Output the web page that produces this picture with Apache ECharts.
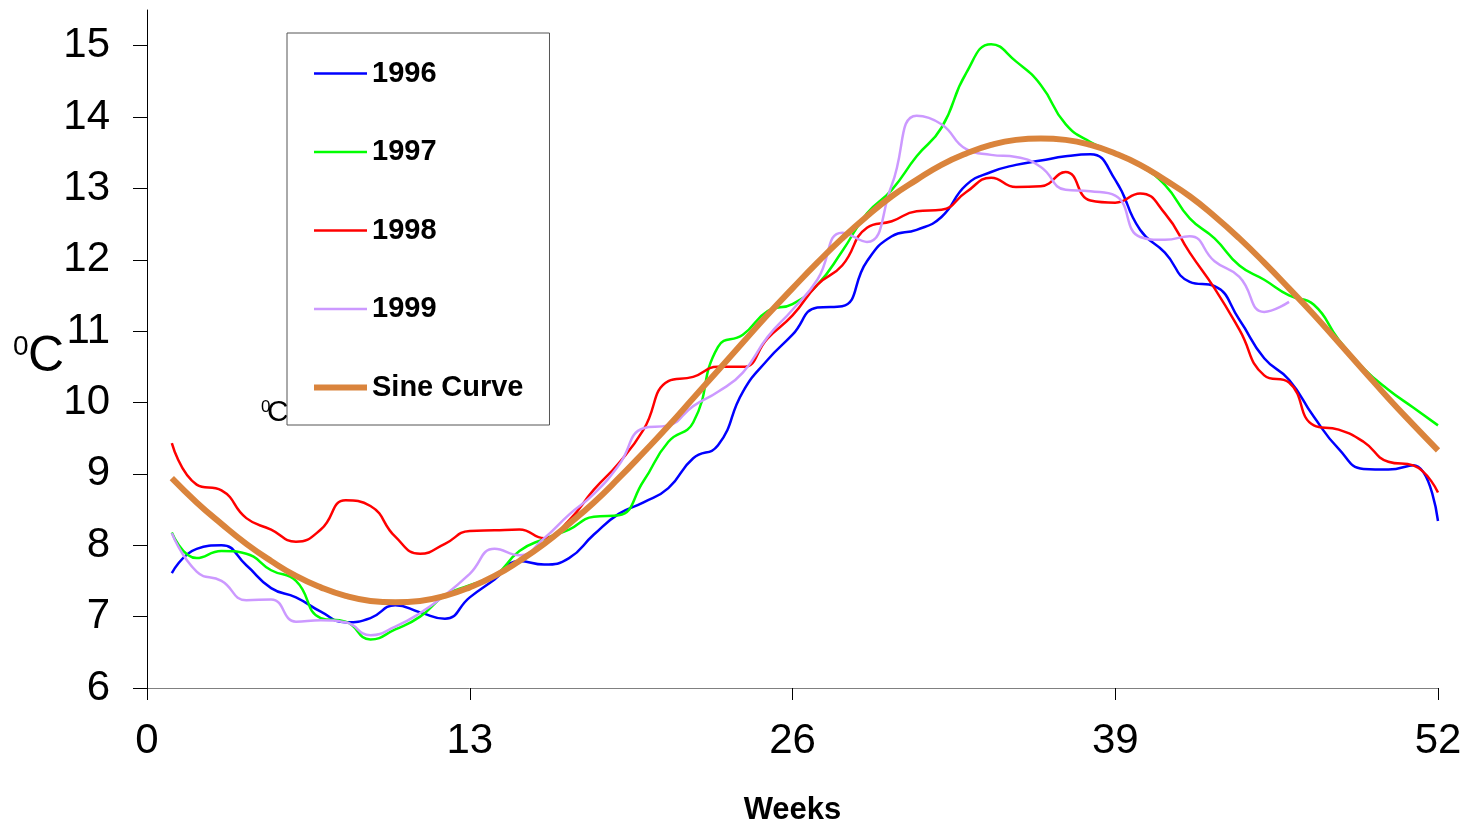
<!DOCTYPE html>
<html>
<head>
<meta charset="utf-8">
<style>
  html, body { margin: 0; padding: 0; background: #fff; }
  #main { width: 1469px; height: 824px; }
</style>
<script src="https://cdn.jsdelivr.net/npm/echarts@6/dist/echarts.min.js"></script>
</head>
<body>
<div id="main"></div>
<script>
// 坐标轴刻度
var xTicks = [0, 13, 26, 39, 52];
var yTicks = [6, 7, 8, 9, 10, 11, 12, 13, 14, 15];

// 各年每周水温 (第1周起)
var t1996 = [7.61, 7.95, 8.00, 7.72, 7.40, 7.27, 7.07, 6.92, 6.98, 7.16,
    7.06, 6.97, 7.27, 7.52, 7.78, 7.73, 7.82, 8.15, 8.44, 8.60,
    8.80, 9.22, 9.40, 10.15, 10.60, 10.95, 11.33, 11.35, 11.98, 12.33,
    12.42, 12.60, 13.05, 13.23, 13.33, 13.39, 13.45, 13.48, 13.12, 12.42,
    12.10, 11.69, 11.63, 11.16, 10.62, 10.32, 9.80, 9.35, 9.07, 9.06,
    9.12, 8.34];
var t1997 = [8.18, 7.82, 7.92, 7.88, 7.65, 7.50, 6.98, 6.93, 6.68, 6.82,
    7.00, 7.30, 7.44, 7.57, 7.92, 8.09, 8.22, 8.40, 8.42, 8.90,
    9.45, 9.72, 10.78, 10.95, 11.28, 11.38, 11.65, 12.12, 12.65, 12.98,
    13.45, 13.85, 14.62, 15.02, 14.78, 14.45, 13.90, 13.65, 13.50, 13.32,
    13.05, 12.58, 12.30, 11.92, 11.72, 11.50, 11.37, 10.88, 10.48, 10.18,
    9.93, 9.68];
var t1998 = [9.43, 8.85, 8.77, 8.38, 8.22, 8.05, 8.22, 8.63, 8.55, 8.12,
    7.88, 8.02, 8.20, 8.21, 8.22, 8.10, 8.35, 8.78, 9.15, 9.62,
    10.30, 10.36, 10.50, 10.50, 10.90, 11.22, 11.65, 11.92, 12.45, 12.54,
    12.68, 12.70, 12.95, 13.15, 13.02, 13.03, 13.23, 12.83, 12.80, 12.93,
    12.65, 12.10, 11.60, 11.02, 10.38, 10.28, 9.68, 9.62, 9.45, 9.17,
    9.12, 8.74];
var t1999 = [8.17, 7.63, 7.50, 7.23, 7.24, 6.93, 6.95, 6.92, 6.74, 6.86,
    7.05, 7.30, 7.60, 7.95, 7.86, 8.10, 8.43, 8.72, 9.12, 9.64,
    9.68, 9.95, 10.15, 10.42, 10.92, 11.30, 11.72, 12.38, 12.25, 13.05,
    14.02, 13.90, 13.55, 13.47, 13.44, 13.30, 12.98, 12.96, 12.90, 12.32,
    12.28, 12.33, 11.98, 11.76, 11.27, 11.41];
// 拟合正弦曲线
var sine = [8.94, 8.60, 8.30, 8.02, 7.78, 7.57, 7.41, 7.29, 7.22, 7.20,
    7.22, 7.29, 7.41, 7.57, 7.78, 8.02, 8.30, 8.60, 8.94, 9.30,
    9.67, 10.06, 10.45, 10.84, 11.23, 11.60, 11.96, 12.30, 12.61, 12.89,
    13.12, 13.33, 13.49, 13.61, 13.68, 13.70, 13.68, 13.61, 13.49, 13.33,
    13.12, 12.89, 12.61, 12.30, 11.96, 11.60, 11.23, 10.84, 10.45, 10.06,
    9.69, 9.33];

var seriesNames = ['1996', '1997', '1998', '1999', 'Sine Curve'];

function toPoints(arr) {
    return arr.map(function (v, i) { return [i + 1, v]; });
}

var font = 'Liberation Sans, Arial, sans-serif';

var chart = echarts.init(document.getElementById('main'));

function lineSeries(name, data, color, width) {
    return {
        name: name,
        type: 'line',
        data: toPoints(data),
        smooth: true,
        symbol: 'none',
        lineStyle: { color: color, width: width },
        itemStyle: { color: color },
        z: name === 'Sine Curve' ? 3 : 2
    };
}

// 图例里的线宽和系列一致
var legendData = seriesNames.map(function (n) {
    return { name: n, lineStyle: { width: n === 'Sine Curve' ? 6 : 2.5 } };
});

var option = {
    animation: false,
    backgroundColor: '#fff',
    grid: { left: 147, right: 31, top: 10, bottom: 136, containLabel: false, outerBoundsMode: 'none' },
    legend: {
        orient: 'vertical',
        left: 287,
        top: 33,
        padding: [26, 26, 23, 24],
        itemGap: 49.5,
        itemWidth: 53,
        itemHeight: 20,
        backgroundColor: '#fff',
        borderColor: '#555',
        borderWidth: 1,
        borderRadius: 0,
        z: 10,
        itemStyle: { opacity: 0 },
        data: legendData,
        textStyle: { fontFamily: font, fontSize: 29, fontWeight: 'bold', color: '#000' }
    },
    xAxis: {
        type: 'value',
        min: 0,
        max: 52,
        interval: 13,
        name: 'Weeks',
        nameLocation: 'middle',
        nameGap: 107,
        nameTextStyle: { fontFamily: font, fontSize: 31, fontWeight: 'bold', color: '#000' },
        splitLine: { show: false },
        axisLine: { lineStyle: { color: '#808080', width: 1 } },
        axisTick: { show: true, length: 12, lineStyle: { color: '#000' } },
        axisLabel: {
            margin: 32,
            fontFamily: font, fontSize: 42, color: '#000',
            customValues: xTicks
        }
    },
    yAxis: {
        type: 'value',
        min: 6,
        max: 15.5,
        splitLine: { show: false },
        axisLine: { show: true, lineStyle: { color: '#000', width: 1 } },
        axisTick: { show: true, length: 14, lineStyle: { color: '#000' }, customValues: yTicks },
        axisLabel: {
            margin: 37,
            fontFamily: font, fontSize: 42, color: '#000',
            customValues: yTicks
        }
    },
    graphic: [
        { type: 'text', left: 13, top: 333, z: 1,
          style: { text: '0', font: '28px ' + font, fill: '#000' } },
        { type: 'text', left: 28, top: 332, z: 1,
          style: { text: 'C', font: '50px ' + font, fill: '#000' } },
        { type: 'text', left: 261, top: 399, z: 1,
          style: { text: '0', font: '17px ' + font, fill: '#000' } },
        { type: 'text', left: 267, top: 398, z: 1,
          style: { text: 'C', font: '30px ' + font, fill: '#000' } }
    ],
    series: [
        lineSeries('1996', t1996, '#0000ff', 2.5),
        lineSeries('1997', t1997, '#00ff00', 2.5),
        lineSeries('1998', t1998, '#ff0000', 2.5),
        lineSeries('1999', t1999, '#cc99ff', 2.5),
        lineSeries('Sine Curve', sine, '#da843c', 6)
    ]
};

chart.setOption(option);
</script>
</body>
</html>
